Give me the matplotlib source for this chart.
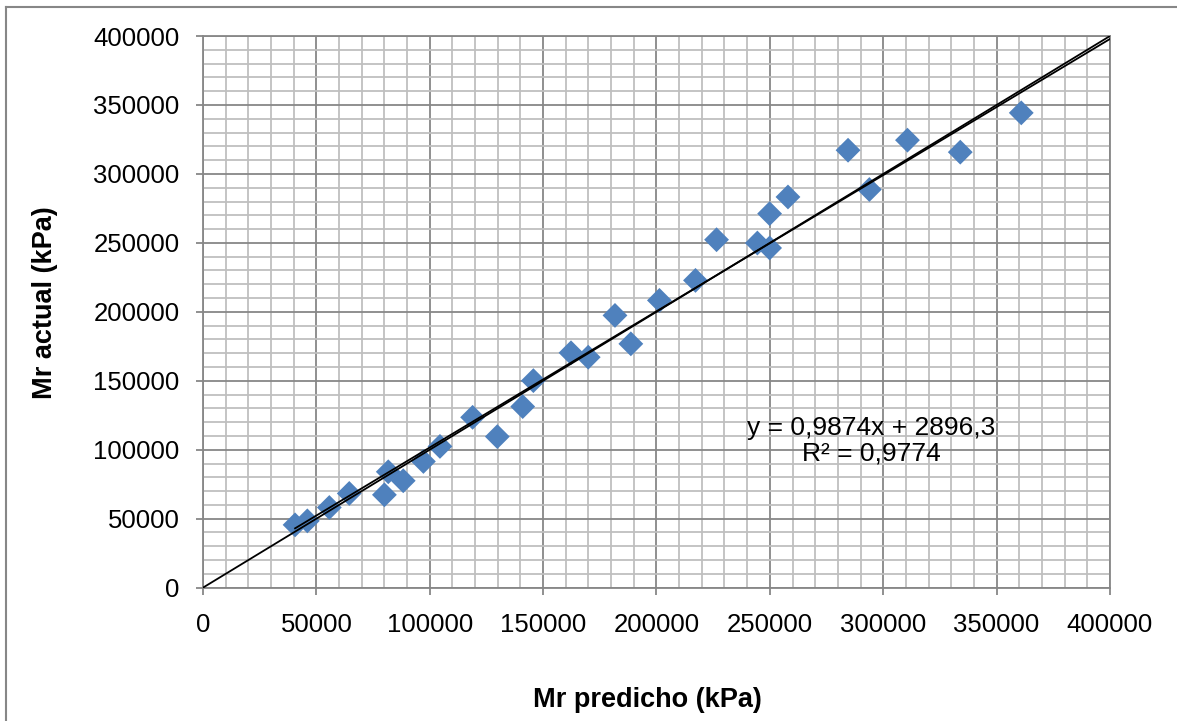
import numpy as np
import matplotlib
matplotlib.use("Agg")
import matplotlib.pyplot as plt
from matplotlib.lines import Line2D

plt.rcParams["font.family"] = ["Liberation Sans", "DejaVu Sans"]

# Mr predicho vs Mr actual (kPa)
mr_predicho = [40600, 46000, 55700, 64500, 80000, 81700, 88300, 97200, 104500,
               118900, 129800, 141000, 145700, 162300, 169900, 181700, 188700,
               201300, 217200, 226500, 244500, 249900, 249900, 258000, 284500,
               293900, 310700, 334000, 360900]
mr_actual = [45500, 48400, 58100, 68300, 67300, 84000, 77500, 91500, 102400,
             123500, 109500, 131300, 150100, 170300, 167100, 197400, 176800,
             208300, 222800, 252300, 249900, 246300, 271200, 283300, 317200,
             288700, 324500, 315800, 344300]

slope = 0.9874
intercept = 2896.3
ident = [0, 400000]
ticks = np.arange(0, 400001, 50000)

fig = plt.figure(figsize=(11.77, 7.21), dpi=100)
ax = fig.add_axes([0.1725, 0.185, 0.7705, 0.765])

ax.scatter(mr_predicho, mr_actual, marker="D", s=160, color="#4F81BD",
           edgecolors="none", zorder=3)

# 1:1 line and linear trendline
ax.plot(ident, ident, color="black", lw=1.3, zorder=4)
xt = np.array([min(mr_predicho), 400000])
ax.plot(xt, slope * xt + intercept, color="black", lw=1.3, zorder=4)

ax.set_xlim(0, 400000)
ax.set_ylim(0, 400000)
ax.set_xticks(ticks)
ax.set_yticks(ticks)
ax.set_xticks(np.arange(0, 400001, 10000), minor=True)
ax.set_yticks(np.arange(0, 400001, 10000), minor=True)
ax.grid(which="minor", color="#bfbfbf", lw=1.3, zorder=0)
ax.grid(which="major", color="#878787", lw=1.3, zorder=1)
ax.set_axisbelow(True)

for s in ax.spines.values():
    s.set_color("#878787")
    s.set_linewidth(1.3)

ax.tick_params(which="major", direction="out", length=5, width=1.3,
               color="#878787", labelsize=18.5, pad=12)
ax.tick_params(axis="x", pad=13)
ax.tick_params(which="minor", length=0)

ax.set_xlabel("Mr predicho (kPa)", fontsize=19.5, fontweight="bold", va="center")
ax.xaxis.set_label_coords(0.49, -0.204)
ax.set_ylabel("Mr actual (kPa)", fontsize=19.5, fontweight="bold", va="center")
ax.yaxis.set_label_coords(-0.174, 0.516)

eq = "y = 0,9874x + 2896,3\nR² = 0,9774"
ax.text(0.7365, 0.266, eq, transform=ax.transAxes, ha="center", va="center",
        fontsize=19, linespacing=1.05)

# chart border (left/top visible)
fig.add_artist(Line2D([0.005, 0.005], [0, 0.99], color="#878787", lw=1.5,
                      transform=fig.transFigure))
fig.add_artist(Line2D([0.005, 1.0], [0.99, 0.99], color="#878787", lw=1.5,
                      transform=fig.transFigure))

fig.savefig("out.png", dpi=100)
